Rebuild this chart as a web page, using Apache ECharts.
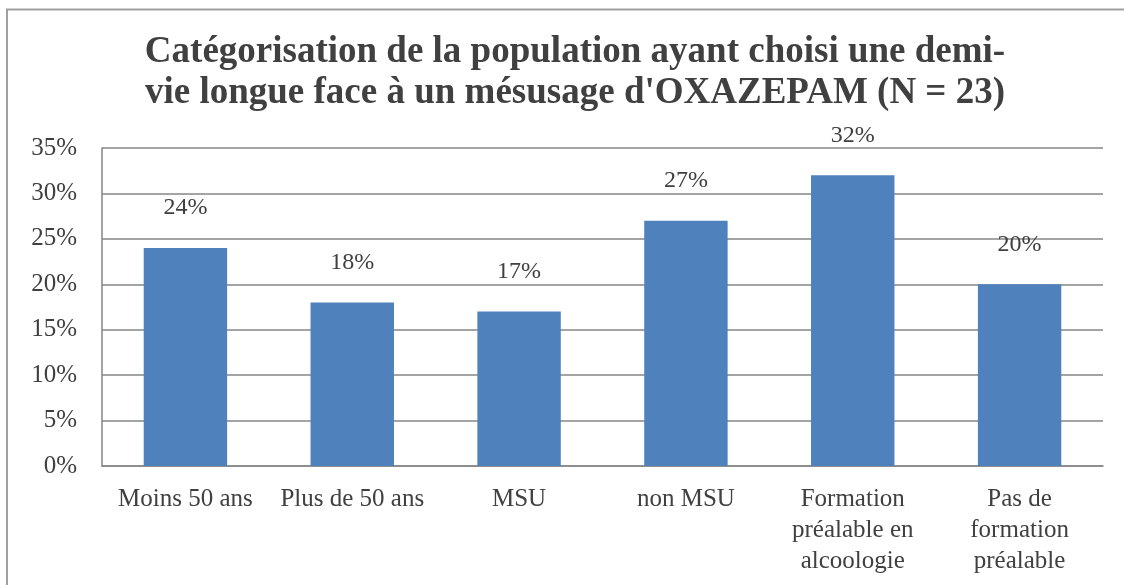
<!DOCTYPE html>
<html>
<head>
<meta charset="utf-8">
<script src="https://cdn.jsdelivr.net/npm/echarts@6/dist/echarts.min.js"></script>
<style>html,body{margin:0;padding:0;background:#fff}#c{width:1124px;height:585px}</style>
</head>
<body>
<div id="c"></div>
<script>
const titleText = "Catégorisation de la population ayant choisi une demi-\nvie longue face à un mésusage d'OXAZEPAM (N = 23)";
const categories = ["Moins 50 ans", "Plus de 50 ans", "MSU", "non MSU", "Formation\npréalable en\nalcoologie", "Pas de\nformation\npréalable"];
const values = [24, 18, 17, 27, 32, 20];
const yTicks = { min: 0, max: 35, interval: 5 };

const font = "'Liberation Serif', 'Times New Roman', serif";
const chart = echarts.init(document.getElementById('c'), null, { renderer: 'canvas' });
chart.setOption({
  animation: false,
  backgroundColor: '#fff',
  graphic: [{
    type: 'rect', shape: { x: 7, y: 9.5, width: 1300, height: 800 },
    style: { fill: 'none', stroke: '#a0a0a0', lineWidth: 2 }, silent: true
  }],
  title: {
    text: titleText, left: 570, textAlign: 'center', top: 27,
    textStyle: { fontFamily: font, fontWeight: 'bold', fontSize: 37, lineHeight: 41, color: '#404040' }
  },
  grid: { left: 102, right: 21, top: 148, bottom: 119, containLabel: false },
  xAxis: {
    type: 'category', data: categories,
    axisLine: { show: true, lineStyle: { color: '#868686', width: 1.5 } },
    axisTick: { show: false },
    axisLabel: { fontFamily: font, fontSize: 25, lineHeight: 31, color: '#404040', margin: 18, interval: 0 }
  },
  yAxis: {
    type: 'value', min: yTicks.min, max: yTicks.max, interval: yTicks.interval,
    axisLine: { show: true, lineStyle: { color: '#868686', width: 1.5 } },
    axisTick: { show: false },
    splitLine: { lineStyle: { color: '#868686', width: 1.5 } },
    axisLabel: { fontFamily: font, fontSize: 25, color: '#404040', margin: 25, formatter: v => v + '%' }
  },
  series: [{
    type: 'bar', data: values, barWidth: '50%',
    itemStyle: { color: '#4F81BD' },
    label: { show: true, position: 'top', distance: 28, formatter: p => p.value + '%',
      fontFamily: font, fontSize: 24, color: '#404040' }
  }]
});
</script>
</body>
</html>
